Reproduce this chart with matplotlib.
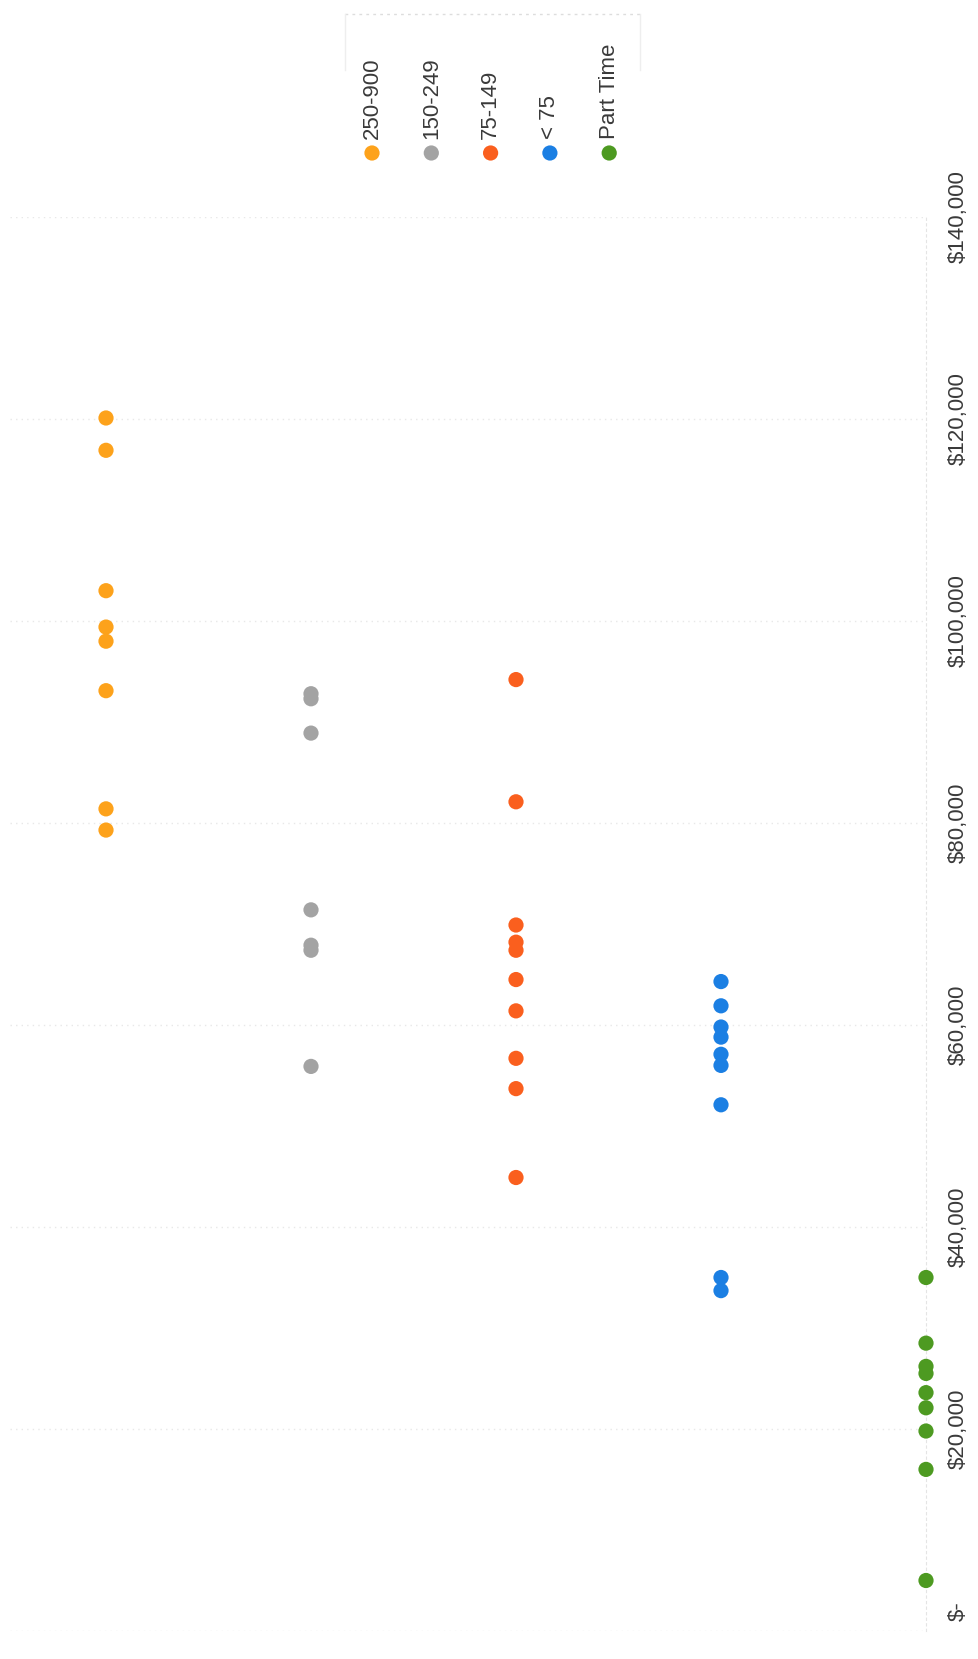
import matplotlib
matplotlib.use("Agg")
import matplotlib.pyplot as plt
import matplotlib.transforms as mtransforms

plt.rcParams['font.family'] = ['Liberation Sans', 'DejaVu Sans']

# groups, left to right as they sit on the page
groups = ['250-900', '150-249', '75-149', '< 75', 'Part Time']
colors = ['#FDA21B', '#A3A3A3', '#FA5F1E', '#1B7FE3', '#4D9A21']
group_pos = [4, 3, 2, 1, 0]

pay_250_900 = [120100, 116900, 103000, 99400, 98000, 93100, 81400, 79300]
pay_150_249 = [92800, 92300, 88900, 71400, 67900, 67400, 55900]
pay_75_149 = [94200, 82100, 69900, 68200, 67400, 64500, 61400, 56700, 53700, 44900]
pay_lt_75 = [64300, 61900, 59800, 58800, 57100, 56000, 52100, 35000, 33700]
pay_part_time = [35000, 28500, 26200, 25500, 23600, 22100, 19800, 16000, 5000]
pay = [pay_250_900, pay_150_249, pay_75_149, pay_lt_75, pay_part_time]

ticks = [0, 20000, 40000, 60000, 80000, 100000, 120000, 140000]
tick_labels = ['$-', '$20,000', '$40,000', '$60,000', '$80,000',
               '$100,000', '$120,000', '$140,000']

W, H = 979, 1659
fig = plt.figure(figsize=(W / 100, H / 100), dpi=100)
fig.patch.set_facecolor('white')

left, right = 10, 926
bottom, top = 1631, 217
ax = fig.add_axes([left / W, (H - bottom) / H, (right - left) / W, (bottom - top) / H])

for vals, pos, c in zip(pay, group_pos, colors):
    ax.scatter([pos] * len(vals), vals, s=120, color=c, edgecolors='none',
               zorder=3, clip_on=False)

ax.set_xlim((right - left) / 205.0, 0)
ax.set_ylim(0, 140000)
ax.set_xticks([])
ax.set_yticks(ticks)
ax.yaxis.tick_right()
ax.set_yticklabels(tick_labels, rotation=90, va='center', ha='left',
                   fontsize=16, color='#3A3A3A')
ax.tick_params(axis='y', length=0, pad=16)
# accounting format pads the zero label, so it sits a little higher
zero = ax.get_yticklabels()[0]
zero.set_transform(zero.get_transform() +
                   mtransforms.ScaledTranslation(0, 0.2, fig.dpi_scale_trans))
ax.grid(axis='y', color='#E8E8E8', linestyle=(0, (1, 3)), linewidth=1.0)
for side in ['left', 'top', 'bottom']:
    ax.spines[side].set_visible(False)
ax.spines['right'].set_color('#E4E4E4')
ax.spines['right'].set_linestyle((0, (2, 3)))

# legend drawn by hand, text running upward
lg = fig.add_axes([0, 0, 1, 1])
lg.set_xlim(0, W)
lg.set_ylim(H, 0)
lg.axis('off')
lg.patch.set_alpha(0)
for i, (name, c) in enumerate(zip(groups, colors)):
    x = 372 + i * 59.3
    lg.scatter([x], [153], s=120, color=c, edgecolors='none')
    lg.text(x, 139, name, rotation=90, ha='center', va='bottom',
            fontsize=16, color='#3A3A3A')
lg.plot([345, 640], [14, 14], color='#DDDDDD', linestyle=(0, (2, 3)), lw=1)
lg.plot([345, 345], [14, 70], color='#EEEEEE', lw=1)
lg.plot([640, 640], [14, 70], color='#EEEEEE', lw=1)

fig.savefig('out.png', dpi=100)
